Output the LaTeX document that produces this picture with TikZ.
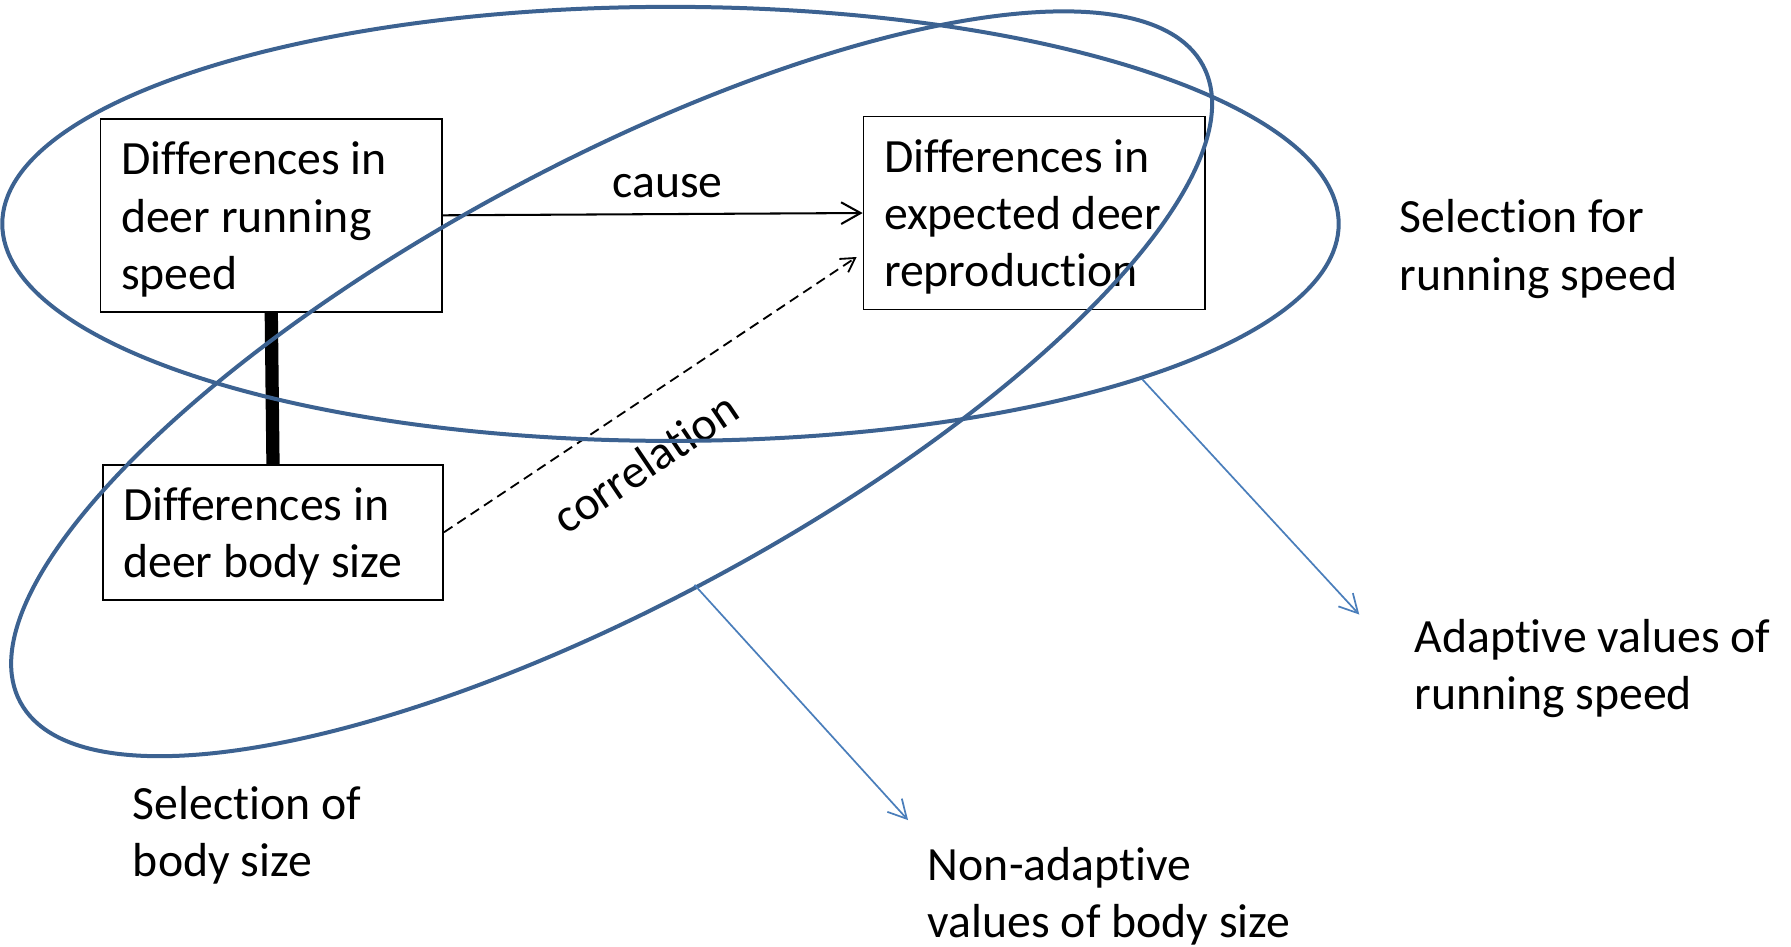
\documentclass[tikz,border=0pt]{standalone}
\usepackage{fontspec}
\setmainfont{Carlito}[Ligatures={NoCommon}]
\usetikzlibrary{arrows.meta,calc}
\definecolor{ellblue}{RGB}{60,98,145}
\definecolor{arrblue}{RGB}{74,126,187}
\newcommand{\toplift}{\rule{0pt}{18pt}}
\begin{document}
\begin{tikzpicture}[x=0.5pt,y=-0.5pt,
  every node/.style={font=\fontsize{20.9}{25}\selectfont},
  box/.style={draw, line width=0.75pt, rectangle, align=flush left, inner xsep=9pt, inner ysep=0pt},
  label/.style={anchor=west, align=flush left, inner sep=0pt},
  ell/.style={draw=ellblue, line width=1.75pt},
  cause/.style={draw, line width=0.9pt, -{Straight Barb[length=8.5pt,width=9.5pt]}},
  corr/.style={draw, line width=0.8pt, dash pattern=on 4.4pt off 2.6pt, -{Straight Barb[length=6pt,width=7pt]}},
  link/.style={draw, line width=5.8pt},
  barrow/.style={draw=arrblue, line width=0.75pt, -{Straight Barb[length=8pt,width=8.6pt]}}
]
\useasboundingbox (0,0) rectangle (1568,829);

% boxes
\node[box, minimum height=84.5pt, text width=131.5pt] (A) at (237.5,188.5) {\toplift Differences in\\deer running\\speed};
\node[box, minimum height=84.5pt, text width=131.5pt] (B) at (905.5,186.5) {\toplift Differences in\\expected deer\\reproduction};
\node[box, minimum height=59pt, text width=131pt] (C) at (239,466) {\toplift Differences in\\deer body size};

% connectors
\draw[link] (A.south) -- (C.north);
\draw[cause] (A.east) -- (B.west) node[midway, above=6.5pt, xshift=6.5pt, inner sep=0pt] (lcause) {cause};
\coordinate (dend) at (750,225);
\draw[corr] (C.east) -- (dend);
\node[rotate=34, inner sep=0pt] (lcorr) at (565,405) {correlation};

% ellipses
\coordinate (e1c) at (587,196);
\coordinate (e2c) at (535.5,336);
\draw[ell] (e1c) ellipse [x radius=292.5pt, y radius=95pt];
\draw[ell, rotate around={28.3:(e2c)}] (e2c) ellipse [x radius=294pt, y radius=96pt];

% free labels
\node[label] (sel1) at (1225,218) {Selection for\\running speed};
\node[label] (adapt) at (1238,585) {Adaptive values of\\running speed};
\node[label] (sel2) at (116,731) {Selection of\\body size};
\node[label] (nonad) at (812,785) {Non-adaptive\\values of body size};

% blue arrows
\coordinate (s1) at (1000,332);
\coordinate (t1) at (1190,538);
\coordinate (s2) at (608,512);
\coordinate (t2) at (795,718);
\draw[barrow] (s1) -- (t1);
\draw[barrow] (s2) -- (t2);
\end{tikzpicture}
\end{document}
